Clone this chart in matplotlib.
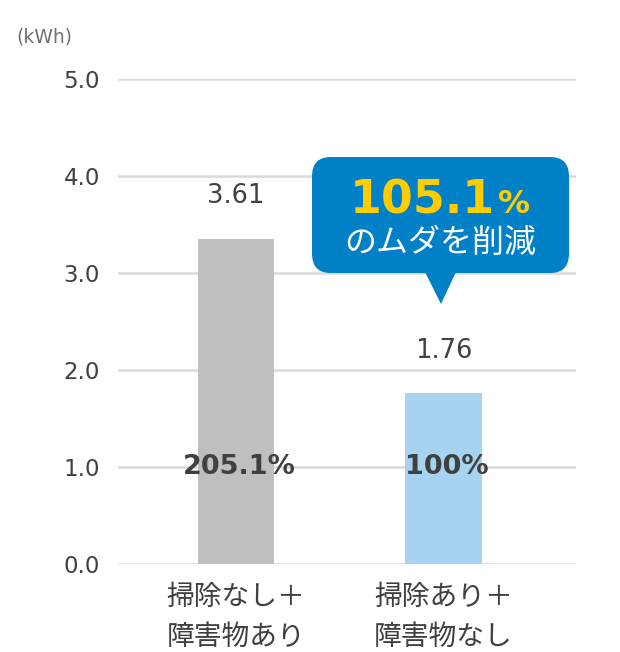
import numpy as np
import matplotlib.pyplot as plt
from matplotlib.patches import FancyBboxPatch, Polygon

plt.rcParams['font.family'] = ['Noto Sans CJK JP', 'DejaVu Sans']
NUM = ['DejaVu Sans']

# data
categories = ['掃除なし＋\n障害物あり', '掃除あり＋\n障害物なし']
heights = [3.35, 1.76]
value_labels = ['3.61', '1.76']
pct_labels = ['205.1%', '100%']
yticks = [0.0, 1.0, 2.0, 3.0, 4.0, 5.0]
colors = ['#BFBFBF', '#A5D3F0']

W, H = 620, 652
fig = plt.figure(figsize=(W / 100, H / 100), dpi=100)
ax = fig.add_axes([118 / W, 1 - 564 / H, (576 - 118) / W, (564 - 79) / H])

x = np.arange(len(categories))
ax.bar(x, heights, width=0.37, color=colors, zorder=2)
ax.set_xlim(-0.57, 1.64)
ax.set_ylim(0, 5)
ax.set_yticks(yticks)
ax.set_yticklabels(['{:.1f}'.format(v) for v in yticks], family=NUM)
ax.set_xticks(x)
ax.set_xticklabels(categories, fontsize=20, color='#404040', linespacing=1.45)
ax.tick_params(axis='y', length=0, pad=13, labelsize=16.5, labelcolor='#404040')
ax.tick_params(axis='x', length=0, pad=13)
for s in ax.spines.values():
    s.set_visible(False)
ax.grid(axis='y', color='#D9D9D9', linewidth=1.8, zorder=0)
ax.set_axisbelow(True)

for i in range(len(x)):
    ax.text(x[i], heights[i] + 0.44, value_labels[i], ha='center', va='center',
            fontsize=18.5, color='#404040', family=NUM)
    ax.text(x[i] + 0.015, 1.0, pct_labels[i], ha='center', va='center',
            fontsize=19.5, fontweight='bold', color='#404040', family=NUM)

fig.text(16 / W, 1 - 37 / H, '(kWh)', fontsize=13.5, color='#707070',
         ha='left', va='center', family=NUM)

# callout
box = FancyBboxPatch((312 / W, 1 - 273 / H), (569 - 312) / W, (273 - 157) / H,
                     boxstyle='round,pad=0,rounding_size=0.03',
                     transform=fig.transFigure, facecolor='#0080C6',
                     edgecolor='none', zorder=5)
fig.patches.append(box)
tri = Polygon([(425 / W, 1 - 272 / H), (456 / W, 1 - 272 / H), (441 / W, 1 - 304 / H)],
              closed=True, transform=fig.transFigure, facecolor='#0080C6',
              edgecolor='none', zorder=5)
fig.patches.append(tri)

fig.text(495 / W, 1 - 213 / H, '105.1', fontsize=33, fontweight='bold',
         color='#FFCC00', ha='right', va='baseline', family=NUM, zorder=6)
fig.text(498 / W, 1 - 213 / H, '%', fontsize=23, fontweight='bold',
         color='#FFCC00', ha='left', va='baseline', family=NUM, zorder=6)
fig.text(440 / W, 1 - 243 / H, 'のムダを削減', fontsize=23, color='white',
         ha='center', va='center', zorder=6)

plt.savefig('out.png', dpi=100)
